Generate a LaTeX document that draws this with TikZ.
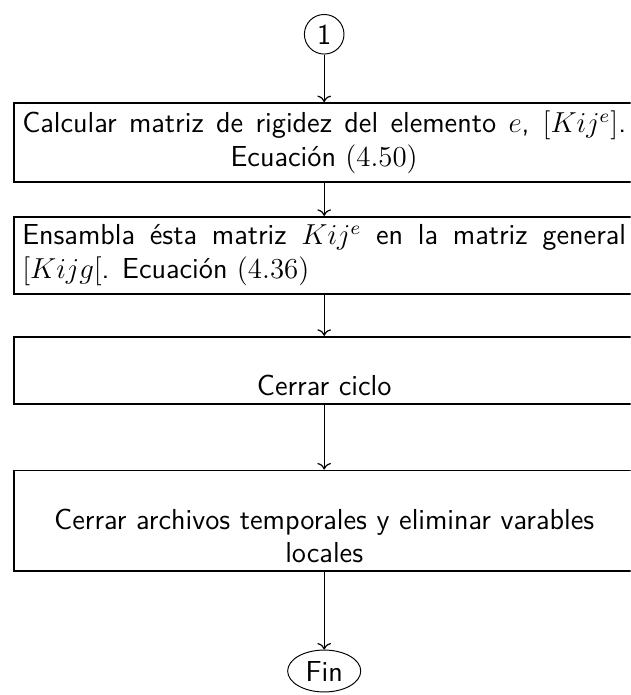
\documentclass[tikz,border=0pt]{standalone}
\usetikzlibrary{arrows.meta, positioning, shapes.geometric}

\begin{document}
\begin{tikzpicture}[
        caja/.style={draw, rectangle, thick, text width=8.81cm, font=\sffamily\large},
        conector/.style={draw, circle, inner sep=2.3pt, font=\sffamily\large},
        terminal/.style={draw, ellipse, inner xsep=3pt, inner ysep=2pt, font=\sffamily\large},
        flecha/.style={->, line width=0.5pt}
    ]
        % Visible area (boxes run past the right edge)
        \useasboundingbox (0,0) rectangle (9.20,-10.14);
        \clip (0,0) rectangle (9.20,-10.14);

        % Entry connector
        \node[conector] (uno) at (4.73,-0.50) {1};

        % Steps
        \node[caja, anchor=north, align=justify] (rigidez) at (4.73,-1.49) {Calcular matriz de rigidez del elemento $e$, $[Kij^e]$.\linebreak\mbox{}\hskip 0pt plus 1fil Ecuación $(4.50)$};
        \node[caja, anchor=north, align=justify] (ensamble) at (4.73,-3.15) {Ensambla ésta matriz $Kij^e$ en la matriz general $[Kijg[$. Ecuación $(4.36)$};
        \node[caja, anchor=north, align=center, text height=21pt] (ciclo) at (4.73,-4.90) {Cerrar ciclo};
        \node[caja, anchor=north, align=center, text height=21pt] (cierre) at (4.73,-6.85) {Cerrar archivos temporales y eliminar varables\\ locales};

        % End
        \node[terminal] (fin) at (4.73,-9.79) {Fin};

        % Arrows between steps
        \draw[flecha] (uno) -- (rigidez);
        \draw[flecha] (rigidez) -- (ensamble);
        \draw[flecha] (ensamble) -- (ciclo);
        \draw[flecha] (ciclo) -- (cierre);
        \draw[flecha] (cierre) -- (fin);
    \end{tikzpicture}
\end{document}
